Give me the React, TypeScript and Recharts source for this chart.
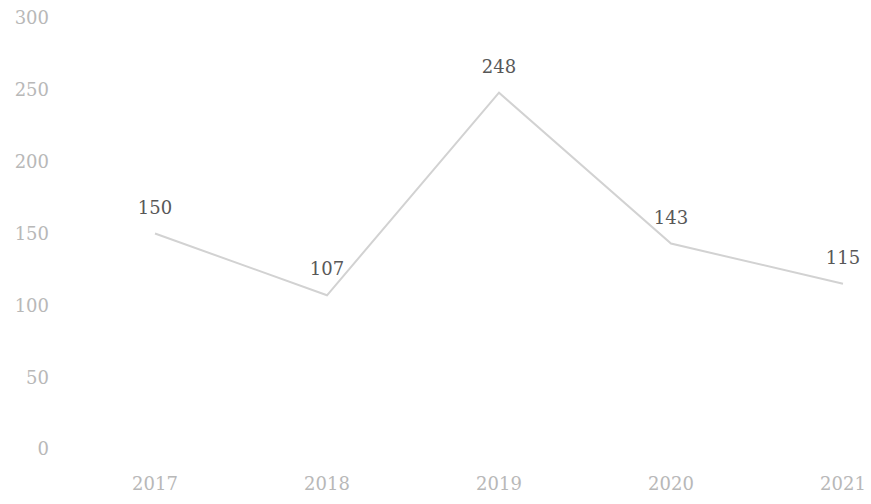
import React from 'react';
import { LineChart, Line, XAxis, YAxis, LabelList } from 'recharts';

const years = ['2017', '2018', '2019', '2020', '2021'];
const values = [150, 107, 248, 143, 115];
const yTicks = [0, 50, 100, 150, 200, 250, 300];

const data = years.map((y, i) => ({ year: y, value: values[i] }));

const FONT = '"DejaVu Serif", serif';

export default function App() {
  return (
    <div style={{ position: 'absolute', left: 0, top: 0, background: '#fff' }}>
      <LineChart width={871} height={504} data={data} margin={{ top: 18, right: 10, bottom: 15, left: 0 }}>
        <XAxis
          dataKey="year"
          axisLine={false}
          tickLine={false}
          height={40}
          tickMargin={22}
          padding={{ left: 98, right: 18 }}
          tick={{ fill: '#b8b8b8', fontSize: 18, fontFamily: FONT }}
        />
        <YAxis
          domain={[0, 300]}
          ticks={yTicks}
          axisLine={false}
          tickLine={false}
          width={57}
          interval={0}
          tick={{ fill: '#b8b8b8', fontSize: 18, fontFamily: FONT }}
        />
        <Line
          type="linear"
          dataKey="value"
          stroke="#d2d2d2"
          strokeWidth={2}
          dot={false}
          isAnimationActive={false}
        >
          <LabelList
            dataKey="value"
            position="top"
            offset={20}
            fill="#585858"
            fontSize={18}
            fontFamily={FONT}
          />
        </Line>
      </LineChart>
    </div>
  );
}
